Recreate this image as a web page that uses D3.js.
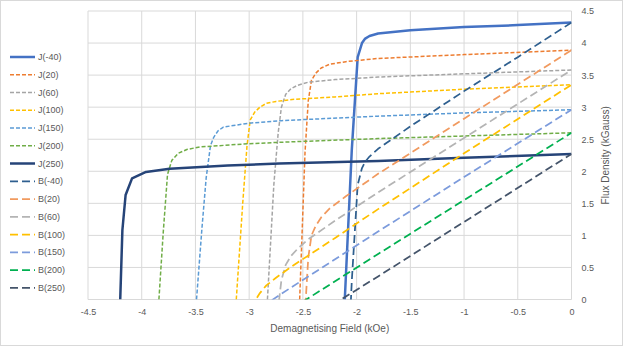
<!DOCTYPE html>
<html>
<head>
<meta charset="utf-8">
<script src="https://cdn.jsdelivr.net/npm/d3@7"></script>
<style>
  html, body { margin: 0; padding: 0; background: #fff; }
  svg { display: block; font-family: "Liberation Sans", Arial, sans-serif; }
</style>
</head>
<body>
<svg id="chart" width="623" height="347"></svg>
<script>
// ---------- data ----------
const xTicks = [-4.5, -4, -3.5, -3, -2.5, -2, -1.5, -1, -0.5, 0];
const yTicks = [0, 0.5, 1, 1.5, 2, 2.5, 3, 3.5, 4, 4.5];

const seriesNames = ["J(-40)", "J(20)", "J(60)", "J(100)", "J(150)", "J(200)", "J(250)",
                     "B(-40)", "B(20)", "B(60)", "B(100)", "B(150)", "B(200)", "B(250)"];

// demagnetising field H (kOe) per temperature
const H_m40 = [-2.11, -2.045, -1.99, -1.95, -1.92, -1.88, -1.8, -1.5, -1.0, -0.5, 0];
const H_20  = [-2.53, -2.48, -2.45, -2.42, -2.38, -2.33, -2.25, -2.1, -1.8, -1.0, 0];
const H_60  = [-2.83, -2.77, -2.73, -2.70, -2.66, -2.61, -2.55, -2.45, -2.2, -1.8, -1.0, 0];
const H_100 = [-3.12, -3.06, -3.02, -2.99, -2.95, -2.90, -2.84, -2.75, -2.6, -2.2, -1.8, -1.0, 0];
const H_150 = [-3.49, -3.44, -3.40, -3.36, -3.33, -3.29, -3.24, -3.0, -2.7, -1.8, -1.0, 0];
const H_200 = [-3.84, -3.80, -3.76, -3.72, -3.66, -3.58, -3.46, -3.0, -2.6, -1.8, -1.0, 0];
const H_250 = [-4.20, -4.18, -4.15, -4.09, -3.96, -3.74, -3.2, -2.72, -1.8, -1.0, 0];

// polarisation J (kGauss)
const J_m40 = [0, 2.33, 3.78, 4.0, 4.07, 4.11, 4.15, 4.2, 4.25, 4.28, 4.32];
const J_20  = [0, 2.3, 3.1, 3.42, 3.53, 3.61, 3.67, 3.71, 3.76, 3.82, 3.89];
const J_60  = [0, 1.8, 2.6, 3.0, 3.2, 3.29, 3.34, 3.39, 3.43, 3.47, 3.52, 3.58];
const J_100 = [0, 1.5, 2.4, 2.8, 2.92, 3.0, 3.06, 3.09, 3.12, 3.16, 3.21, 3.28, 3.35];
const J_150 = [0, 1.1, 1.9, 2.4, 2.53, 2.63, 2.69, 2.75, 2.79, 2.86, 2.91, 2.96];
const J_200 = [0, 1.04, 1.95, 2.17, 2.28, 2.34, 2.38, 2.43, 2.46, 2.51, 2.55, 2.6];
const J_250 = [0, 1.08, 1.63, 1.89, 1.99, 2.04, 2.09, 2.12, 2.16, 2.21, 2.27];

// flux density B (kGauss)
const B_m40 = [-2.11, 0.285, 1.79, 2.05, 2.15, 2.23, 2.35, 2.7, 3.25, 3.78, 4.32];
const B_20  = [-2.53, -0.18, 0.65, 1.0, 1.15, 1.28, 1.42, 1.61, 1.96, 2.82, 3.89];
const B_60  = [-2.83, -0.97, -0.13, 0.30, 0.54, 0.68, 0.79, 0.94, 1.23, 1.67, 2.52, 3.58];
const B_100 = [-3.12, -1.56, -0.62, -0.19, -0.03, 0.10, 0.22, 0.34, 0.52, 0.96, 1.41, 2.28, 3.35];
const B_150 = [-3.49, -2.34, -1.5, -0.96, -0.8, -0.66, -0.55, -0.25, 0.09, 1.06, 1.91, 2.96];
const B_200 = [-3.84, -2.76, -1.81, -1.55, -1.38, -1.24, -1.08, -0.57, -0.14, 0.71, 1.55, 2.6];
const B_250 = [-4.2, -3.1, -2.52, -2.2, -1.97, -1.7, -1.11, -0.6, 0.36, 1.21, 2.27];

const xValues = [H_m40, H_20, H_60, H_100, H_150, H_200, H_250,
                 H_m40, H_20, H_60, H_100, H_150, H_200, H_250];
const yValues = [J_m40, J_20, J_60, J_100, J_150, J_200, J_250,
                 B_m40, B_20, B_60, B_100, B_150, B_200, B_250];

// ---------- styles ----------
const colors = ["#4472C4", "#ED7D31", "#A5A5A5", "#FFC000", "#5B9BD5", "#70AD47", "#264478",
                "#2E5F8F", "#F19A5F", "#B4B4B4", "#FFC000", "#7C9BDC", "#00B050", "#44546A"];
const widths = [2.5, 1.5, 1.5, 1.5, 1.5, 1.5, 2.5, 1.75, 1.75, 1.75, 1.75, 1.75, 1.75, 1.75];
const dashes = [null, "4,2", "4,2", "4,2", "4,2", "4,2", null,
                "8,4", "8,4", "8,4", "8,4", "8,4", "8,4", "8,4"];

const series = seriesNames.map((name, i) => ({
  name, color: colors[i], width: widths[i], dash: dashes[i],
  points: xValues[i].map((h, k) => [h, yValues[i][k]])
}));

// ---------- layout ----------
const svg = d3.select("#chart");
const W = 623, H = 347;
const plot = { left: 88, right: 571.5, top: 11, bottom: 299.5 };

svg.append("rect").attr("x", 0.5).attr("y", 0.5).attr("width", W - 1).attr("height", H - 2)
  .attr("fill", "#fff").attr("stroke", "#d9d9d9");

const x = d3.scaleLinear().domain([-4.5, 0]).range([plot.left, plot.right]);
const y = d3.scaleLinear().domain([0, 4.5]).range([plot.bottom, plot.top]);

// gridlines
const grid = svg.append("g").attr("stroke", "#d9d9d9").attr("stroke-width", 1);
grid.selectAll("line.v").data(xTicks).join("line")
  .attr("x1", d => x(d)).attr("x2", d => x(d)).attr("y1", plot.top).attr("y2", plot.bottom);
grid.selectAll("line.h").data(yTicks).join("line")
  .attr("x1", plot.left).attr("x2", plot.right).attr("y1", d => y(d)).attr("y2", d => y(d));

// x axis labels
const xAxis = d3.axisBottom(x).tickValues(xTicks).tickSize(0).tickPadding(9)
  .tickFormat(d => String(d));
const gx = svg.append("g").attr("transform", `translate(0,${plot.bottom})`).call(xAxis);
gx.select(".domain").remove();
gx.selectAll("text").attr("fill", "#595959").attr("font-size", 9)
  .attr("font-family", "Liberation Sans, Arial, sans-serif");

// right y axis labels
const yAxis = d3.axisRight(y).tickValues(yTicks).tickSize(0).tickPadding(10)
  .tickFormat(d => String(d));
const gy = svg.append("g").attr("transform", `translate(${plot.right},0)`).call(yAxis);
gy.select(".domain").remove();
gy.selectAll("text").attr("fill", "#595959").attr("font-size", 9)
  .attr("font-family", "Liberation Sans, Arial, sans-serif");

// axis titles
svg.append("text").attr("x", (plot.left + plot.right) / 2).attr("y", 332)
  .attr("text-anchor", "middle").attr("fill", "#595959").attr("font-size", 10)
  .text("Demagnetising Field (kOe)");
svg.append("text")
  .attr("transform", `translate(609,${(plot.top + plot.bottom) / 2}) rotate(-90)`)
  .attr("text-anchor", "middle").attr("fill", "#595959").attr("font-size", 10)
  .text("Flux Density (kGauss)");

// clip
svg.append("clipPath").attr("id", "clip").append("rect")
  .attr("x", plot.left).attr("y", plot.top)
  .attr("width", plot.right - plot.left).attr("height", plot.bottom - plot.top);

const line = d3.line().x(d => x(d[0])).y(d => y(d[1]));
svg.append("g").attr("clip-path", "url(#clip)")
  .selectAll("path").data(series).join("path")
  .attr("d", d => line(d.points))
  .attr("fill", "none")
  .attr("stroke", d => d.color)
  .attr("stroke-width", d => d.width)
  .attr("stroke-dasharray", d => d.dash)
  .attr("stroke-linejoin", "round");

// legend
const lg = svg.append("g");
const item = lg.selectAll("g").data(series).join("g")
  .attr("transform", (d, i) => `translate(0,${57 + i * 17.75})`);
item.append("line").attr("x1", 10).attr("x2", 35).attr("y1", 0).attr("y2", 0)
  .attr("stroke", d => d.color).attr("stroke-width", d => d.width)
  .attr("stroke-dasharray", d => d.dash);
item.append("text").attr("x", 38).attr("y", 0).attr("dy", "0.35em")
  .attr("fill", "#595959").attr("font-size", 9).text(d => d.name);
</script>
</body>
</html>
